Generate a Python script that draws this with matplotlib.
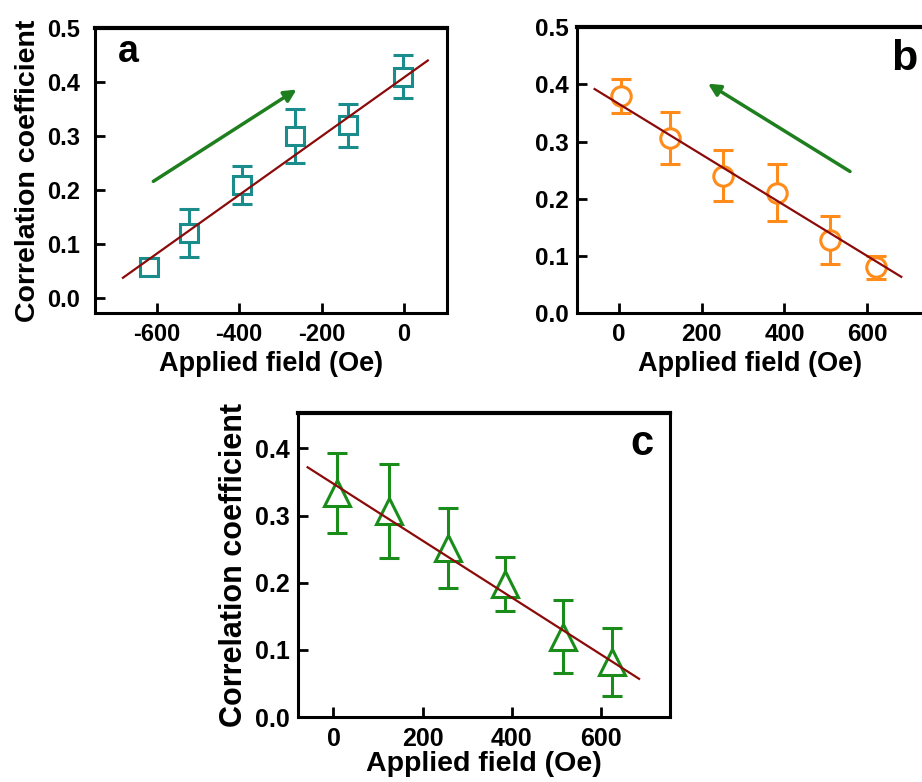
import matplotlib
matplotlib.use("Agg")
from matplotlib import pyplot as plt

plt.rcParams['font.family'] = ['Liberation Sans', 'DejaVu Sans']
plt.rcParams['font.weight'] = 'bold'
plt.rcParams['axes.unicode_minus'] = False

# panel a: negative field sweep
field_a = [-620, -522, -392, -264, -136, -3]
corr_a = [0.057, 0.12, 0.209, 0.30, 0.32, 0.41]
err_a = [0.0, 0.045, 0.035, 0.05, 0.04, 0.04]
fit_a_x = [-682, 58]
fit_a_y = [0.037, 0.44]
arrow_a = [(-614, 0.213), (-255, 0.389)]

# panel b: positive field sweep
field_b = [5, 125, 253, 383, 511, 622]
corr_b = [0.38, 0.306, 0.24, 0.21, 0.128, 0.08]
err_b = [0.03, 0.045, 0.045, 0.05, 0.042, 0.02]
fit_b_x = [-58, 682]
fit_b_y = [0.392, 0.063]
arrow_b = [(564, 0.245), (210, 0.404)]

# panel c
field_c = [7, 124, 256, 384, 515, 625]
corr_c = [0.334, 0.307, 0.252, 0.198, 0.12, 0.082]
err_c = [0.06, 0.07, 0.06, 0.04, 0.055, 0.05]
fit_c_x = [-58, 685]
fit_c_y = [0.372, 0.057]

line_col = '#8b0a0a'
arrow_col = '#1f7f1f'


def style_axes(ax, tick_size, ypad=6):
    ax.tick_params(direction='in', length=7, width=2, labelsize=tick_size)
    ax.tick_params(axis='x', pad=7)
    ax.tick_params(axis='y', pad=ypad)
    for lab in ax.get_xticklabels() + ax.get_yticklabels():
        lab.set_fontweight('bold')
    for side in ['left', 'bottom', 'right']:
        ax.spines[side].set_linewidth(2.2)
    ax.spines['top'].set_linewidth(3)


def draw_panel(ax, x, y, err, fit_x, fit_y, color, marker, ms):
    ax.errorbar(x, y, yerr=err, fmt='none', ecolor=color, elinewidth=2.2,
                capsize=7, capthick=2.2, zorder=2)
    ax.plot(x, y, linestyle='none', marker=marker, markersize=ms,
            markerfacecolor='white', markeredgecolor=color, markeredgewidth=2.2, zorder=3)
    ax.plot(fit_x, fit_y, color=line_col, lw=1.6, zorder=4)


fig = plt.figure(figsize=(9.22, 7.82), dpi=100)

ax_a = fig.add_axes([0.103, 0.600, 0.382, 0.364])
draw_panel(ax_a, field_a, corr_a, err_a, fit_a_x, fit_a_y, '#1a8c8c', 's', 13)
ax_a.set_xlim(-750, 105)
ax_a.set_ylim(-0.028, 0.5)
ax_a.set_xticks([-600, -400, -200, 0])
ax_a.set_yticks([0.0, 0.1, 0.2, 0.3, 0.4, 0.5])
ax_a.set_yticklabels(['0.0', '0.1', '0.2', '0.3', '0.4', '0.5'])
style_axes(ax_a, 17, ypad=11)
ax_a.set_xlabel('Applied field (Oe)', fontsize=19.5, fontweight='bold', labelpad=4)
ax_a.set_ylabel('Correlation coefficient', fontsize=20.5, fontweight='bold', labelpad=4)
ax_a.annotate('', xy=arrow_a[1], xytext=arrow_a[0],
              arrowprops=dict(arrowstyle='-|>', color=arrow_col, lw=2.5, mutation_scale=18))
ax_a.text(0.065, 0.88, 'a', transform=ax_a.transAxes, fontsize=27, fontweight='bold',
          ha='left', va='baseline')

ax_b = fig.add_axes([0.626, 0.600, 0.374, 0.365])
draw_panel(ax_b, field_b, corr_b, err_b, fit_b_x, fit_b_y, '#ff8c1a', 'o', 14)
ax_b.set_xlim(-100, 732)
ax_b.set_ylim(0.0, 0.5)
ax_b.set_xticks([0, 200, 400, 600])
ax_b.set_yticks([0.0, 0.1, 0.2, 0.3, 0.4, 0.5])
ax_b.set_yticklabels(['0.0', '0.1', '0.2', '0.3', '0.4', '0.5'])
style_axes(ax_b, 17.5)
ax_b.spines['right'].set_visible(False)
ax_b.set_xlabel('Applied field (Oe)', fontsize=19.5, fontweight='bold', labelpad=4)
ax_b.annotate('', xy=arrow_b[1], xytext=arrow_b[0],
              arrowprops=dict(arrowstyle='-|>', color=arrow_col, lw=2.5, mutation_scale=18))
ax_b.text(658, 0.425, 'b', fontsize=31, fontweight='bold', ha='left', va='baseline')

ax_c = fig.add_axes([0.323, 0.083, 0.404, 0.389])
draw_panel(ax_c, field_c, corr_c, err_c, fit_c_x, fit_c_y, '#1a8c1a', '^', 19)
ax_c.set_xlim(-80, 755)
ax_c.set_ylim(0.0, 0.453)
ax_c.set_xticks([0, 200, 400, 600])
ax_c.set_yticks([0.0, 0.1, 0.2, 0.3, 0.4])
ax_c.set_yticklabels(['0.0', '0.1', '0.2', '0.3', '0.4'])
style_axes(ax_c, 18)
ax_c.set_xlabel('Applied field (Oe)', fontsize=20.5, fontweight='bold', labelpad=0)
ax_c.set_ylabel('Correlation coefficient', fontsize=22, fontweight='bold', labelpad=4)
ax_c.text(0.892, 0.862, 'c', transform=ax_c.transAxes, fontsize=30, fontweight='bold',
          ha='left', va='baseline')

fig.savefig('out.png', dpi=100)
